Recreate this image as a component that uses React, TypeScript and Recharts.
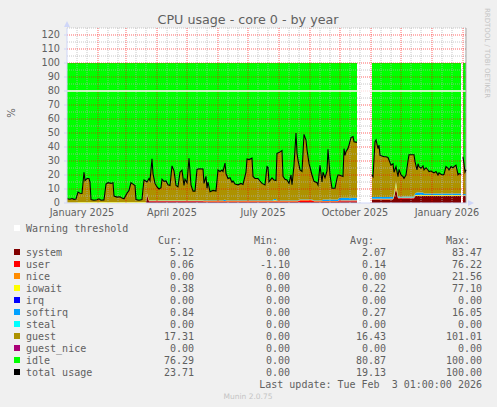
import React from 'react';
import { ComposedChart, Area, Line, XAxis, YAxis, CartesianGrid, ReferenceLine } from 'recharts';

// Day index counted from 1 January 2025 (null rows = no data)
const days = [
  // Jan - Mar 2025
  0, 3, 5, 7, 9, 11, 13, 15, 17, 18, 20, 22, 23, 24, 27, 30, 32, 34, 37, 39,
  41, 44, 46, 47, 50, 53, 55, 57, 60, 62, 64, 66, 68, 69, 72, 75, 76, 77, 79,
  // Mar - May
  80, 82, 83, 85, 86, 88, 90, 92, 94, 95, 97, 99, 101, 103, 105, 107, 109, 111, 113, 115,
  117, 118, 120, 122, 124, 126, 128, 130, 132, 136,
  // May - Sep
  137, 139, 140, 141, 143, 146, 149, 151, 153, 155, 156, 158, 159, 161, 163, 165, 166, 168, 171, 174,
  176, 179, 180, 182, 185, 186, 188, 191, 193, 195, 198, 200, 201, 202, 205, 207, 209, 210, 212, 215,
  216, 218, 220, 222, 224, 225, 227, 229, 230, 231, 233, 235, 236, 237, 239, 240, 242, 245, 247, 250,
  251, 253, 255, 256, 258, 260, 261, 263, 265, 268, 270, 271,
  // Sep - Oct
  272, 274, 276, 277, 278, 279, 281, 282, 284, 286, 287, 289, 290,
  291,
  // Nov 2025 - Jan 2026
  305, 306, 308, 309, 311, 312, 313, 315, 317, 319, 321, 322, 324, 326, 327, 329, 331, 332, 334, 336,
  337, 339, 341, 342, 344, 347, 348, 350, 351, 352, 354, 356, 357, 359, 361, 362, 364, 366, 367, 369,
  371, 372, 374, 376, 377, 379, 381, 382, 384, 386, 387, 389, 391, 392, 394,
  395,
  396, 397, 398, 399,
];

// total usage (black line)
const usage = [
  3.0, 2.7, 3.2, 2.6, 2.8, 7.8, 7.0, 6.8, 22, 16, 17.5, 17.5, 15, 2.5, 2.0, 2.3, 3.0, 2.0, 2.2, 13.5,
  14.5, 14.0, 14.5, 5, 4.2, 4.5, 3.5, 3.0, 7, 9, 14.5, 13.5, 12.5, 2.5, 2.0, 2.5, 10, 16.5, 15.5,
  15, 17.5, 16, 31.5, 21, 14, 11.5, 10, 11, 17, 15.5, 15.8, 13, 12.5, 26.5, 23, 12.5, 11.5, 22, 23.5,
  12.5, 17, 14.5, 32, 13, 8.5, 8.5, 24, 24.5, 24.3,
  14, 19, 10.5, 15, 8, 9, 8.5, 23.5, 22.5, 23.5, 22.5, 28.5, 21, 17.5, 18, 14.8, 15.7, 13.5, 13, 14,
  13.3, 22, 31.5, 31, 32, 19, 17.5, 17.5, 15.7, 14, 12.9, 26, 25.5, 15.2, 18, 16.4, 16, 35.5, 36, 37.5,
  19, 17, 16.4, 14, 20, 13, 27, 50, 35.5, 30.7, 23.6, 22.5, 35.5, 49, 45, 38, 28.3, 20, 15.5, 14.5,
  12.9, 27, 15, 22, 18, 23, 38.3, 20, 10.5, 10.5, 17.6, 20,
  20, 19.5, 19, 38.8, 34, 36.7, 39, 41.4, 46.7, 47.4, 43.8, 43.5, 43.3,
  null,
  20, 18.8, 43.8, 45, 38.8, 41.4, 34, 33.5, 33, 33, 32.5, 30.7, 27, 28, 22, 26, 18.8, 24, 20, 18.8,
  17.6, 20, 30, 34.5, 34.5, 34.5, 29.5, 23.6, 28, 26, 24.8, 26.5, 23.6, 25.2, 23.6, 22.4, 22.8, 22, 21.5, 22.4,
  20, 21.5, 20.5, 20, 20.5, 26, 24.8, 23.6, 26, 25.2, 26, 27, 20.2, 21, 20.5,
  null,
  33, 28, 22, 23.71,
];

const system = [
  0, 0, 0, 0, 0, 0, 0, 0, 0, 0, 0, 0, 0, 0, 0, 0, 0, 0, 0, 0,
  0, 0, 0, 0, 0, 0, 0, 0, 0, 0, 0, 0, 0, 0, 0, 0, 0, 0, 0,
  6, 1, 1, 1, 1, 1, 1, 1, 1, 1, 1, 1, 1, 1, 1, 1, 1, 1, 1, 1,
  1, 1, 1, 1, 1, 1, 1, 1, 1, 1,
  0.8, 0.8, 0.8, 0.8, 0.8, 0.8, 0.8, 0.8, 0.8, 0.8, 0.8, 0.8, 0.8, 0.8, 0.8, 0.8, 0.8, 0.8, 0.8, 0.8,
  0.8, 0.8, 0.8, 0.8, 0.8, 0.8, 0.8, 0.8, 0.8, 0.8, 0.8, 0.8, 0.8, 0.8, 0.8, 0.8, 0.8, 0.8, 0.8, 0.8,
  0.8, 0.8, 0.8, 0.8, 0.8, 0.8, 0.8, 0.8, 0.8, 0.8, 0.8, 0.8, 0.8, 0.8, 0.8, 0.8, 0.8, 0.8, 0.8, 0.8,
  0.8, 0.8, 0.8, 0.8, 0.8, 0.8, 0.8, 0.8, 0.8, 0.8, 0.8, 0.8,
  1, 1, 1, 1, 1, 1, 1, 1, 1, 1, 1, 1, 1,
  null,
  2.5, 2.5, 2.5, 2.5, 2.5, 2.5, 2.5, 2.5, 2.5, 2.5, 2.5, 2.5, 2.5, 2.5, 4, 10.5, 3.3, 3.3, 3.3, 3.3,
  3.3, 3.3, 3.3, 3.3, 3.3, 3.3, 5, 5, 5, 5, 5, 5, 5, 5, 5, 5, 5, 5, 5, 5,
  5, 5, 5, 5, 5, 5, 5, 5, 5, 5, 5, 5, 5, 5, 5,
  null,
  5.1, 5.1, 5.1, 5.12,
];

const user = [
  0, 0, 0, 0, 0, 0, 0, 0, 0, 0, 0, 0, 0, 0, 0, 0, 0, 0, 0, 0,
  0, 0, 0, 0, 0, 0, 0, 0, 0, 0, 0, 0, 0, 0, 0, 0, 0, 0, 0,
  0.4, 0.4, 0.4, 0.4, 0.4, 0.4, 0.4, 0.4, 0.4, 0.4, 0.4, 0.4, 0.4, 0.4, 0.4, 0.4, 0.4, 0.4, 0.4, 0.4,
  0.4, 0.4, 0.4, 0.4, 0.4, 0.4, 0.4, 0.4, 0.4, 0.4,
  0.5, 0.5, 0.5, 0.5, 0.5, 0.5, 0.5, 0.5, 0.5, 0.5, 0.5, 0.5, 0.5, 0.5, 0.5, 0.5, 0.5, 0.5, 0.5, 0.5,
  0.5, 0.5, 0.5, 0.5, 0.5, 0.5, 0.5, 0.5, 0.5, 0.5, 0.5, 0.5, 0.5, 0.5, 0.5, 0.5, 0.5, 0.5, 0.5, 0.5,
  0.5, 0.5, 0.5, 0.5, 0.5, 0.5, 0.5, 0.5, 0.5, 0.5, 1.2, 1.2, 1.2, 1.2, 1.2, 1.2, 1.2, 1.2, 0.5, 0.5,
  0.5, 0.5, 0.5, 0.5, 0.5, 0.5, 0.5, 0.5, 0.5, 0.5, 0.5, 0.5,
  0.8, 0.8, 0.8, 0.8, 0.8, 0.8, 0.8, 0.8, 0.8, 0.8, 0.8, 0.8, 0.8,
  null,
  0.2, 0.2, 0.2, 0.2, 0.2, 0.2, 0.2, 0.2, 0.2, 0.2, 0.2, 0.2, 0.2, 0.2, 0.2, 0.2, 0.2, 0.2, 0.2, 0.2,
  0.2, 0.2, 0.2, 0.2, 0.2, 0.2, 0.2, 0.2, 0.2, 0.2, 0.2, 0.2, 0.2, 0.2, 0.2, 0.2, 0.2, 0.2, 0.2, 0.2,
  0.2, 0.2, 0.2, 0.2, 0.2, 0.2, 0.2, 0.2, 0.2, 0.2, 0.2, 0.2, 0.2, 0.2, 0.2,
  null,
  0.1, 0.1, 0.1, 0.06,
];

const iowait = [
  0.3, 0.3, 0.3, 0.3, 0.3, 0.7, 0.7, 0.7, 0.7, 0.7, 0.7, 0.7, 0.7, 0.7, 0.7, 0.7, 0.7, 0.7, 0.7, 0.7,
  0.7, 0.7, 0.7, 0.7, 0.7, 0.7, 0.7, 0.7, 0.7, 0.7, 0.7, 0.7, 0.7, 0.7, 0.7, 0.7, 0.7, 0.7, 0.7,
  0.3, 0.3, 0.3, 0.3, 0.3, 0.3, 0.3, 0.3, 0.3, 0.3, 0.3, 0.3, 0.3, 0.3, 0.3, 0.3, 0.3, 0.3, 0.3, 0.3,
  0.3, 0.3, 0.3, 0.3, 0.3, 0.3, 0.3, 0.3, 0.3, 0.3,
  0.2, 0.2, 0.2, 0.2, 0.2, 0.2, 0.2, 0.2, 0.2, 0.2, 0.2, 0.2, 0.2, 0.2, 0.2, 0.2, 0.2, 0.2, 0.2, 0.2,
  0.2, 0.2, 0.2, 0.2, 0.2, 0.2, 0.2, 0.2, 0.2, 0.2, 0.2, 0.2, 0.2, 0.2, 0.2, 0.6, 0.6, 0.2, 0.2, 0.2,
  0.2, 0.2, 0.2, 0.2, 0.2, 0.2, 0.2, 0.2, 0.2, 0.2, 0.2, 0.2, 0.2, 0.2, 0.2, 0.2, 0.2, 0.2, 0.2, 0.2,
  0.2, 0.2, 0.2, 0.2, 0.2, 0.2, 0.2, 0.2, 0.2, 0.2, 0.2, 0.2,
  0.2, 0.2, 0.2, 0.2, 0.2, 0.2, 0.2, 0.2, 0.2, 0.2, 0.2, 0.2, 0.2,
  null,
  0.4, 0.4, 0.4, 0.4, 0.4, 0.4, 0.4, 0.4, 0.4, 0.4, 0.4, 0.4, 0.4, 0.4, 1.5, 3.5, 0.5, 0.4, 0.4, 0.4,
  0.4, 0.4, 0.4, 0.4, 0.4, 0.4, 0.5, 0.5, 0.5, 0.5, 0.5, 0.5, 0.5, 0.5, 0.5, 0.5, 0.5, 0.5, 0.5, 0.5,
  0.5, 0.5, 0.5, 0.5, 0.5, 0.5, 0.5, 0.5, 0.5, 0.5, 0.5, 0.5, 0.5, 0.5, 0.5,
  null,
  0.4, 0.4, 0.4, 0.38,
];

const softirq = [
  0, 0, 0, 0, 0, 0, 0, 0, 0, 0, 0, 0, 0, 0, 0, 0, 0, 0, 0, 0,
  0, 0, 0, 0, 0, 0, 0, 0, 0, 0, 0, 0, 0, 0, 0, 0, 0, 0, 0,
  0.3, 0.3, 0.3, 0.3, 0.3, 0.3, 0.3, 0.3, 0.3, 0.3, 0.3, 0.3, 0.3, 0.3, 0.3, 0.3, 0.3, 0.3, 0.3, 0.3,
  0.3, 0.3, 0.3, 0.3, 0.3, 0.3, 0.3, 0.3, 0.3, 0.3,
  0.3, 0.3, 0.3, 0.3, 0.3, 0.3, 0.3, 0.3, 0.3, 0.3, 0.3, 1.0, 0.3, 0.3, 0.3, 0.3, 0.3, 0.3, 0.3, 0.3,
  0.3, 0.3, 0.3, 0.3, 0.3, 0.3, 0.3, 0.3, 0.3, 0.3, 0.3, 0.3, 0.3, 0.3, 0.3, 1.0, 1.0, 0.3, 0.3, 0.3,
  0.3, 0.3, 0.3, 0.3, 0.3, 0.3, 0.3, 0.3, 0.3, 0.3, 0.3, 0.3, 0.3, 0.3, 0.3, 0.3, 0.3, 0.3, 0.3, 0.3,
  0.3, 0.3, 0.3, 1.0, 1.0, 1.0, 1.0, 1.0, 1.0, 1.0, 1.0, 1.0,
  1.8, 1.8, 1.8, 1.8, 1.8, 1.8, 1.8, 1.8, 1.8, 1.8, 1.8, 1.8, 1.8,
  null,
  1.2, 1.2, 1.2, 1.2, 1.2, 1.2, 1.2, 1.2, 1.2, 1.2, 1.2, 1.2, 1.2, 1.2, 1.0, 0.8, 0.8, 0.8, 0.8, 0.8,
  0.8, 0.8, 0.8, 0.8, 0.8, 0.8, 1.0, 1.8, 1.8, 1.8, 1.8, 1.8, 1.0, 1.0, 1.0, 1.0, 1.0, 1.0, 1.0, 1.0,
  1.0, 1.0, 1.0, 1.0, 1.0, 1.0, 1.0, 1.0, 1.0, 1.0, 1.0, 1.0, 1.0, 1.0, 1.0,
  null,
  0.8, 0.8, 0.8, 0.84,
];

// x axis labels (mid-month positions) and grid days
const labelDays = [15, 105, 196, 288, 380];
const labelText = ['January 2025', 'April 2025', 'July 2025', 'October 2025', 'January 2026'];
const monthDays = [31, 59, 90, 120, 151, 181, 212, 243, 273, 304, 334, 365, 396];
const minorDays = [10, 20, 41, 51, 69, 79, 100, 110, 130, 140, 161, 171, 191, 201, 222, 232, 253, 263, 283, 293, 314, 324, 344, 354, 375, 385];
const yTicks = [0, 10, 20, 30, 40, 50, 60, 70, 80, 90, 100, 110, 120];
const yMinor = [5, 15, 25, 35, 45, 55, 65, 75, 85, 95, 105, 115, 125];
const warning = 80;

// legend table
const legendNames = ['system', 'user', 'nice', 'iowait', 'irq', 'softirq', 'steal', 'guest', 'guest_nice', 'idle', 'total usage'];
const legendColors = ['#800000', '#ff0000', '#ff8c00', '#ffff00', '#0000ff', '#00a0ff', '#00ffff', '#ad9200', '#aa0077', '#00ff00', '#000000'];
const curVals = ['5.12', '0.06', '0.00', '0.38', '0.00', '0.84', '0.00', '17.31', '0.00', '76.29', '23.71'];
const minVals = ['0.00', '-1.10', '0.00', '0.00', '0.00', '0.00', '0.00', '0.00', '0.00', '0.00', '0.00'];
const avgVals = ['2.07', '0.14', '0.00', '0.22', '0.00', '0.27', '0.00', '16.43', '0.00', '80.87', '19.13'];
const maxVals = ['83.47', '76.22', '21.56', '77.10', '0.00', '16.05', '0.00', '101.01', '0.00', '100.00', '100.00'];

const rows = days.map((day, i) => {
  const u = usage[i];
  if (u === null) {
    return { day, system: null, user: null, iowait: null, softirq: null, guest: null, idle: null, total: null };
  }
  const small = (system[i] as number) + (user[i] as number) + (iowait[i] as number) + (softirq[i] as number);
  return {
    day,
    system: system[i],
    user: user[i],
    iowait: iowait[i],
    softirq: softirq[i],
    guest: +(u - small).toFixed(2),
    idle: +(100 - u).toFixed(2),
    total: u,
  };
});

const FONT = '#606060';
const AXIS = '#cfd6f8';
const sans = 'DejaVu Sans, sans-serif';
const mono = 'DejaVu Sans Mono, monospace';

const stackKeys = [
  { key: 'system', color: '#800000' },
  { key: 'user', color: '#ff0000' },
  { key: 'iowait', color: '#ffff00' },
  { key: 'softirq', color: '#00a0ff' },
  { key: 'guest', color: '#ad9200' },
  { key: 'idle', color: '#00ff00' },
];

export default function App() {
  return (
    <div style={{ position: 'absolute', left: 0, top: 0, width: 497, height: 407, background: '#f0f0f0' }}>
      <ComposedChart width={497} height={407} data={rows} margin={{ top: 28, right: 30, bottom: 184, left: 27 }}>
        <CartesianGrid fill="#ffffff" stroke="none" />
        <XAxis
          dataKey="day"
          type="number"
          domain={[0, 400]}
          ticks={labelDays}
          tickFormatter={(v) => labelText[labelDays.indexOf(v)]}
          interval={0}
          height={20}
          tickLine={false}
          tickSize={2}
          tickMargin={4}
          axisLine={{ stroke: AXIS }}
          tick={{ fill: FONT, fontSize: 9.7, fontFamily: sans }}
        />
        <YAxis
          type="number"
          domain={[0, 125]}
          ticks={yTicks}
          interval={0}
          width={40}
          tickSize={3}
          tickMargin={4}
          axisLine={{ stroke: AXIS }}
          tickLine={{ stroke: AXIS }}
          tick={{ fill: FONT, fontSize: 9.7, fontFamily: sans }}
          allowDataOverflow
        />
        {stackKeys.map((s) => (
          <Area
            key={s.key}
            dataKey={s.key}
            stackId="cpu"
            type="linear"
            fill={s.color}
            fillOpacity={1}
            stroke="none"
            dot={false}
            activeDot={false}
            isAnimationActive={false}
          />
        ))}
        {minorDays.map((d) => (
          <ReferenceLine key={'mx' + d} x={d} stroke="#b0b0b0" strokeOpacity={0.7} strokeDasharray="1 1" />
        ))}
        {yMinor.map((v) => (
          <ReferenceLine key={'my' + v} y={v} stroke="#b0b0b0" strokeOpacity={0.7} strokeDasharray="1 1" />
        ))}
        {monthDays.map((d) => (
          <ReferenceLine key={'Mx' + d} x={d} stroke="#ff0000" strokeOpacity={0.6} strokeDasharray="1 1" />
        ))}
        {yTicks.slice(1).map((v) => (
          <ReferenceLine key={'My' + v} y={v} stroke="#ff0000" strokeOpacity={0.6} strokeDasharray="1 1" />
        ))}
        <ReferenceLine y={warning} stroke="#ffffff" strokeWidth={1.3} />
        <ReferenceLine x={399} stroke="#999999" />
        <Line
          dataKey="total"
          type="linear"
          stroke="#000000"
          strokeWidth={1.1}
          dot={false}
          activeDot={false}
          isAnimationActive={false}
        />
      </ComposedChart>

      <svg width={497} height={407} style={{ position: 'absolute', left: 0, top: 0, pointerEvents: 'none' }}>
        <polygon points="64,27 70,27 67,21" fill={AXIS} />
        <polygon points="468,200 468,206 474,203" fill={AXIS} />
        <text x={248} y={19} textAnchor="middle" dominantBaseline="central" fontFamily={sans} fontSize={12.7} fill={FONT}>
          CPU usage - core 0 - by year
        </text>
        <text x={11} y={113} textAnchor="middle" dominantBaseline="central" fontFamily={sans} fontSize={10} fill={FONT} transform="rotate(-90 11 113)">
          %
        </text>
        <text x={487} y={53} textAnchor="middle" dominantBaseline="central" fontFamily={sans} fontSize={7} fill="#c4c4c4" transform="rotate(90 487 53)">
          RRDTOOL / TOBI OETIKER
        </text>

        <rect x={14} y={225} width={6} height={6} fill="#ffffff" />
        <text x={26} y={228} dominantBaseline="central" fontFamily={mono} fontSize={10} fill={FONT}>Warning threshold</text>

        {['Cur:', 'Min:', 'Avg:', 'Max:'].map((h, i) => (
          <text key={h} x={182 + i * 96} y={240} textAnchor="end" dominantBaseline="central" fontFamily={mono} fontSize={10} fill={FONT}>
            {h}
          </text>
        ))}

        {legendNames.map((name, i) => {
          const y = 252 + i * 12;
          return (
            <g key={name}>
              <rect x={14} y={y - 3} width={6} height={6} fill={legendColors[i]} />
              <text x={26} y={y} dominantBaseline="central" fontFamily={mono} fontSize={10} fill={FONT}>{name}</text>
              {[curVals, minVals, avgVals, maxVals].map((col, j) => (
                <text key={j} x={194 + j * 96} y={y} textAnchor="end" dominantBaseline="central" fontFamily={mono} fontSize={10} fill={FONT}>
                  {col[i]}
                </text>
              ))}
            </g>
          );
        })}

        <text x={482} y={384} textAnchor="end" dominantBaseline="central" fontFamily={mono} fontSize={10} fill={FONT} style={{ whiteSpace: 'pre' }}>
          {'Last update: Tue Feb  3 01:00:00 2026'}
        </text>
        <text x={248} y={396} textAnchor="middle" dominantBaseline="central" fontFamily={sans} fontSize={7.5} fill="#c4c4c4">
          Munin 2.0.75
        </text>
      </svg>
    </div>
  );
}
